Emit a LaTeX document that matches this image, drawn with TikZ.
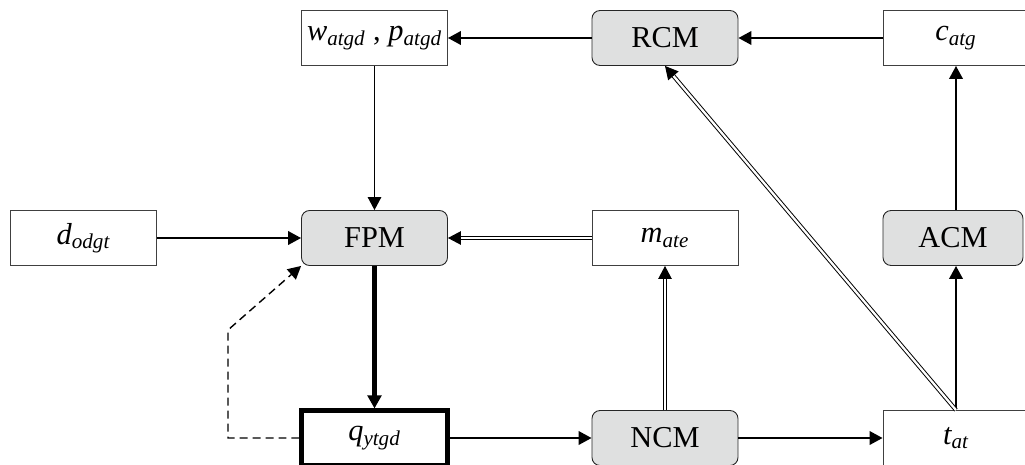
\documentclass[tikz,border=0pt]{standalone}
\usepackage{fontspec}
\setmainfont{Liberation Serif}
\usetikzlibrary{arrows.meta}
\definecolor{modgray}{HTML}{DFE0E0}
\tikzset{
  varbox/.style={draw=black!75, line width=0.5pt, fill=white, minimum width=2.92cm, minimum height=1.1cm, inner sep=0pt, font=\LARGE},
  modbox/.style={varbox, draw=black!85, fill=modgray, rounded corners=0.16cm},
  tip/.style={-{Triangle[length=0.26cm,width=0.27cm]}},
  arr/.style={tip, line width=1.2pt},
  dblarr/.style={tip, double, line width=0.55pt, double distance=1.3pt},
}
\begin{document}
\begin{tikzpicture}[x=0.02cm,y=-0.02cm]
\useasboundingbox (0,0) rectangle (1025,464);
% top row
\node[varbox] (w) at (374.5,38) {\textit{w\textsubscript{atgd}} , \textit{p\textsubscript{atgd}}};
\node[modbox] (RCM) at (665,38) {RCM};
\node[varbox] (c) at (956,38) {\textit{c\textsubscript{atg}}};
% middle row
\node[varbox] (d) at (83.5,238) {\textit{d\textsubscript{odgt}}};
\node[modbox] (FPM) at (374.5,238) {FPM};
\node[varbox] (m) at (665,238) {\textit{m\textsubscript{ate}}};
\node[modbox, minimum width=2.8cm] (ACM) at (953,238) {ACM};
% bottom row
\node[varbox, draw=black, line width=2.3pt] (q) at (374.5,438) {\textit{q\textsubscript{ytgd}}};
\node[modbox] (NCM) at (665,438) {NCM};
\node[varbox] (t) at (956,438) {\textit{t\textsubscript{at}}};
\coordinate (qbend) at (228,330);
% links
\draw[arr] (c) -- (RCM);
\draw[arr] (RCM) -- (w);
\draw[arr, line width=0.7pt] (w) -- (FPM);
\draw[arr] (d) -- (FPM);
\draw[dblarr] (m) -- (FPM);
\draw[arr, line width=2.8pt] (FPM) -- (q);
\draw[tip, dashed, line width=0.8pt, dash pattern=on 0.16cm off 0.1cm] (q.west) -| (qbend) -- (FPM.south west);
\draw[arr] (q) -- (NCM);
\draw[dblarr] (NCM) -- (m);
\draw[arr] (NCM) -- (t);
\draw[arr] (t.north) -- (t.north |- ACM.south);
\draw[arr] (t.north |- ACM.north) -- (c.south);
\draw[dblarr] (t.north) -- (RCM.south);
\end{tikzpicture}
\end{document}
